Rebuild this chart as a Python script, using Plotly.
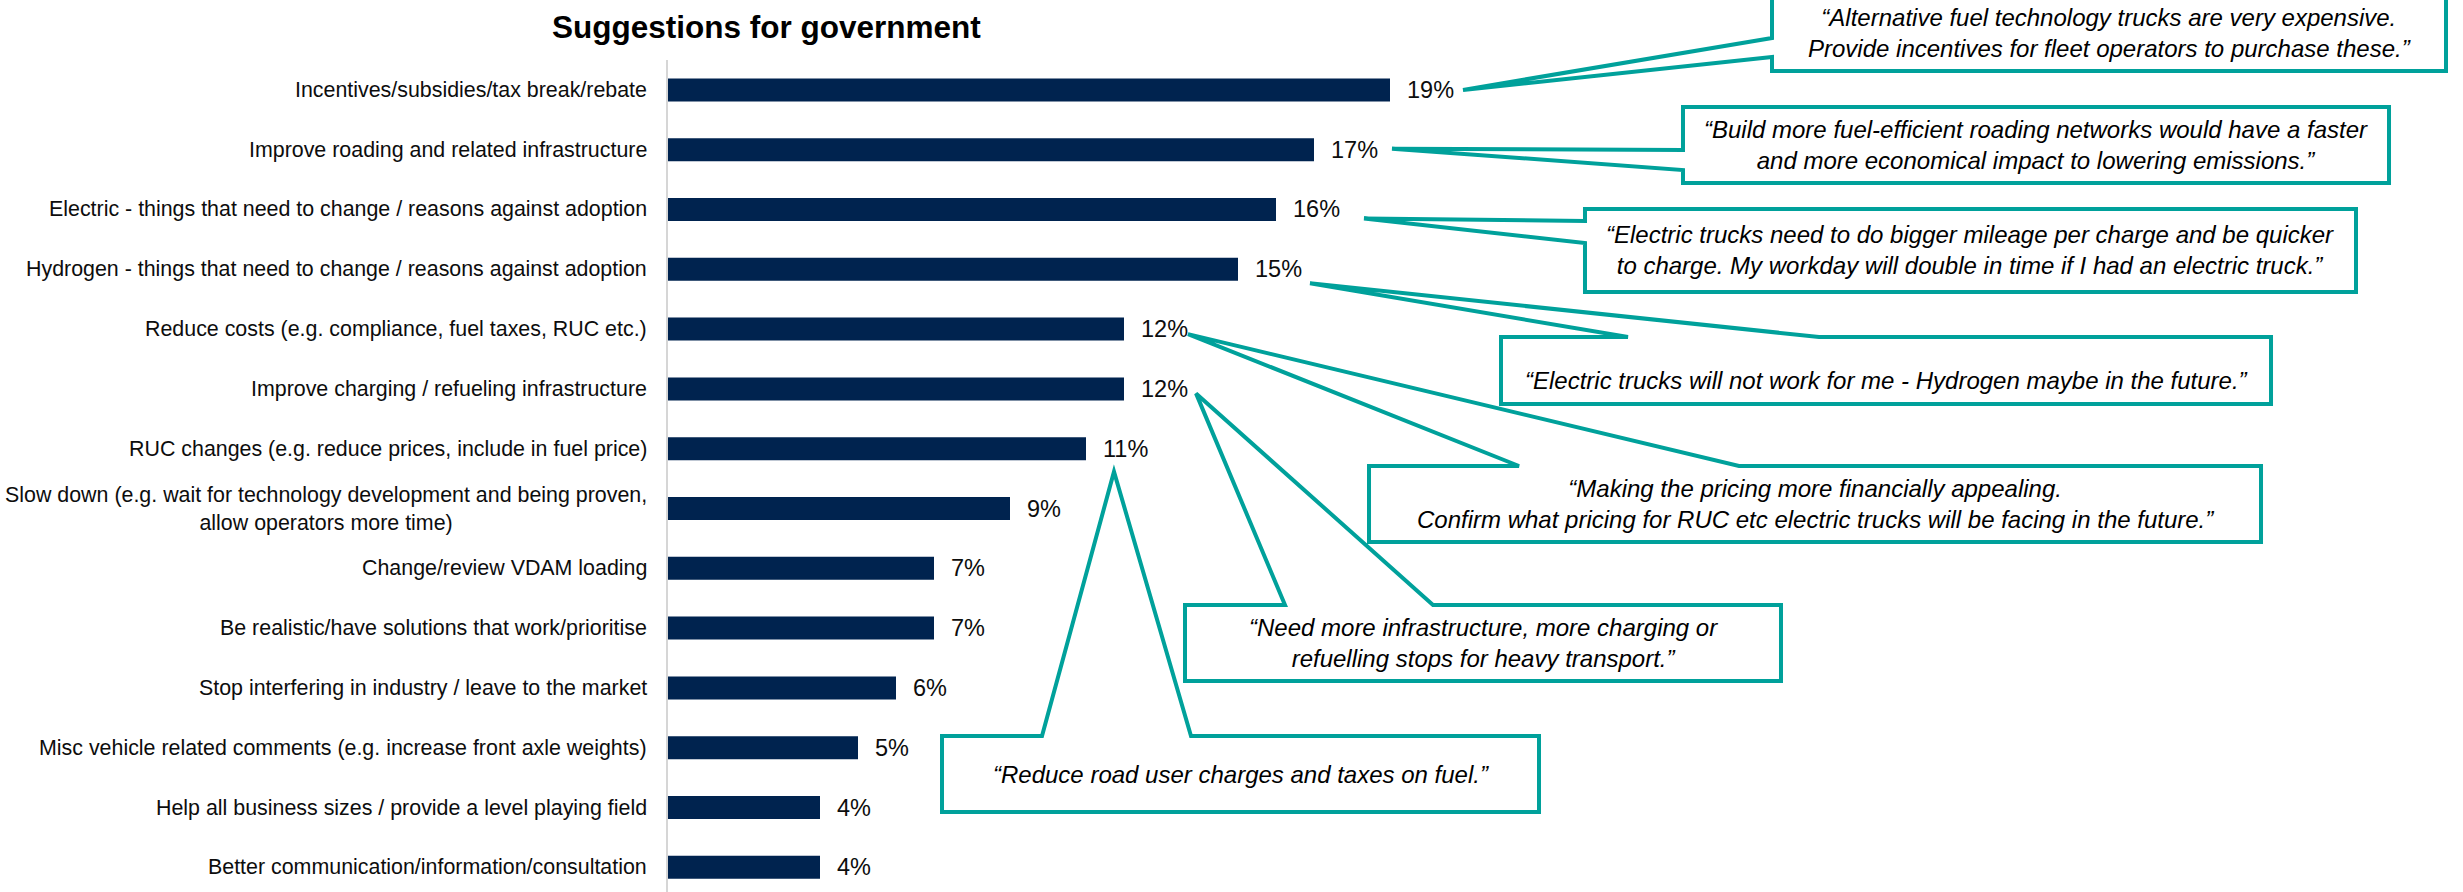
import plotly.graph_objects as go

# ---- data -------------------------------------------------------------
categories = [
    "Incentives/subsidies/tax break/rebate",
    "Improve roading and related infrastructure",
    "Electric - things that need to change / reasons against adoption",
    "Hydrogen - things that need to change / reasons against adoption",
    "Reduce costs (e.g. compliance, fuel taxes, RUC etc.)",
    "Improve charging / refueling infrastructure",
    "RUC changes (e.g. reduce prices, include in fuel price)",
    "Slow down (e.g. wait for technology development and being proven,<br>allow operators more time)",
    "Change/review VDAM loading",
    "Be realistic/have solutions that work/prioritise",
    "Stop interfering in industry / leave to the market",
    "Misc vehicle related comments (e.g. increase front axle weights)",
    "Help all business sizes / provide a level playing field",
    "Better communication/information/consultation",
]
values = [19, 17, 16, 15, 12, 12, 11, 9, 7, 7, 6, 5, 4, 4]

title_text = "Suggestions for government"

quotes = [
    "\u201cAlternative fuel technology trucks are very expensive.<br>"
    "Provide incentives for fleet operators to purchase these.\u201d",
    "\u201cBuild more fuel-efficient roading networks would have a faster<br>"
    "and more economical impact to lowering emissions.\u201d",
    "\u201cElectric trucks need to do bigger mileage per charge and be quicker<br>"
    "to charge. My workday will double in time if I had an electric truck.\u201d",
    "\u201cElectric trucks will not work for me - Hydrogen maybe in the future.\u201d",
    "\u201cMaking the pricing more financially appealing.<br>"
    "Confirm what pricing for RUC etc electric trucks will be facing in the future.\u201d",
    "\u201cNeed more infrastructure, more charging or<br>"
    "refuelling stops for heavy transport.\u201d",
    "\u201cReduce road user charges and taxes on fuel.\u201d",
]
quote_bar = [0, 1, 2, 3, 4, 5, 6]  # which bar each quote points at

# ---- layout constants (pixels) -----------------------------------------
W, H = 2463, 892
AX0 = 668          # x pixel of the value axis origin
PX_PER = 38.0      # pixels per percentage point
TOP = 60           # top of the plotting area
ROW = 59.8         # pixels per category row

NAVY = "#00234F"
TEAL = "#00A19B"
FONT = "Liberation Sans, Arial, sans-serif"

# callout boxes: (left, top, right, bottom), wedge side, wedge base, tip offset, text centre y
callout_geometry = [
    ((1772, -4, 2446, 71), "left", (38, 57), (73, 0), None),
    ((1683, 107, 2389, 183), "left", (150, 170), (78, -1), None),
    ((1585, 209, 2356, 292), "left", (221, 243), (88, 9), None),
    ((1501, 337, 2271, 404), "top", (1628, 1819), (72, 14), 380),
    ((1369, 466, 2261, 542), "top", (1519, 1739), (64, 5), None),
    ((1185, 605, 1781, 681), "top", (1285, 1433), (72, 4.5), None),
    ((942, 736, 1539, 812), "top", (1042, 1191), (28, 23), None),
]


def px_to_paper(x, y):
    return x / W, 1 - y / H


def bar_end_px(i):
    return AX0 + values[i] * PX_PER


def row_center_px(i):
    return TOP + (i + 0.5) * ROW


fig = go.Figure()

fig.add_trace(go.Bar(
    x=values,
    y=categories,
    orientation="h",
    width=0.385,
    marker=dict(color=NAVY, line=dict(width=0)),
    hoverinfo="skip",
))

x_span = (W - AX0) / PX_PER
rows_visible = (H - TOP) / ROW

annotations = []

# category labels (block right-aligned, lines centred)
for cat in categories:
    annotations.append(dict(
        x=649 / W, xref="paper", xanchor="right",
        y=cat, yref="y", yanchor="middle",
        text=cat, showarrow=False, align="center",
        font=dict(family=FONT, size=21.4, color="#0D0D0D"),
    ))

# value labels
for cat, v in zip(categories, values):
    annotations.append(dict(
        x=v, xref="x", xanchor="left", xshift=15,
        y=cat, yref="y", yanchor="middle",
        text=f"{v}%", showarrow=False,
        font=dict(family=FONT, size=23.5, color="#0D0D0D"),
    ))

# title
tx, ty = px_to_paper(766, 27)
annotations.append(dict(
    x=tx, y=ty, xref="paper", yref="paper", xanchor="center", yanchor="middle",
    text=f"<b>{title_text}</b>", showarrow=False,
    font=dict(family=FONT, size=31.5, color="#000000"),
))

shapes = []
for q, bi, geo in zip(quotes, quote_bar, callout_geometry):
    (l, t, r, b), side, base, (dx, dy), text_y = geo
    tipx = bar_end_px(bi) + dx
    tipy = row_center_px(bi) + dy
    if side == "left":
        pts = [(l, t), (r, t), (r, b), (l, b), (l, base[1]), (tipx, tipy), (l, base[0])]
    else:
        pts = [(l, t), (base[0], t), (tipx, tipy), (base[1], t), (r, t), (r, b), (l, b)]
    paper_pts = [px_to_paper(x, y) for x, y in pts]
    path = "M " + " L ".join(f"{x:.5f},{y:.5f}" for x, y in paper_pts) + " Z"
    shapes.append(dict(
        type="path", path=path, xref="paper", yref="paper",
        fillcolor="white", line=dict(color=TEAL, width=4), layer="above",
    ))
    cy = text_y if text_y is not None else (t + b) / 2
    cxp, cyp = px_to_paper((l + r) / 2, cy)
    annotations.append(dict(
        x=cxp, y=cyp, xref="paper", yref="paper",
        xanchor="center", yanchor="middle", align="center",
        text=f"<i>{q}</i>", showarrow=False,
        font=dict(family=FONT, size=24, color="#000000"),
    ))

fig.update_layout(
    width=W, height=H,
    margin=dict(l=0, r=0, t=0, b=0),
    paper_bgcolor="white", plot_bgcolor="white",
    showlegend=False,
    xaxis=dict(
        domain=[AX0 / W, 1], range=[0, x_span],
        visible=False, showgrid=False, zeroline=False,
    ),
    yaxis=dict(
        domain=[0, 1 - TOP / H],
        type="category",
        categoryorder="array", categoryarray=categories,
        range=[-0.5 + rows_visible, -0.5],
        showticklabels=False, ticks="", showgrid=False, zeroline=False,
        showline=True, linecolor="#D6D6D6", linewidth=2,
    ),
    annotations=annotations,
    shapes=shapes,
)

fig.write_html("out.html")
